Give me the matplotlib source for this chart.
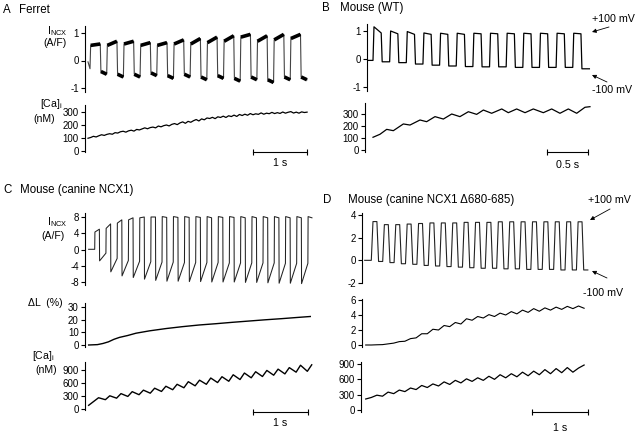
import numpy as np
import matplotlib
matplotlib.use("Agg")
import matplotlib.pyplot as plt
from matplotlib import transforms

plt.rcParams["font.family"] = ["Liberation Sans", "DejaVu Sans"]
plt.rcParams["mathtext.fontset"] = "custom"
plt.rcParams["mathtext.rm"] = "Liberation Sans"
plt.rcParams["mathtext.it"] = "Liberation Sans:italic"
plt.rcParams["axes.unicode_minus"] = False

# ---- data -----------------------------------------------------------------
# A  Ferret: I_NCX plateau levels per pulse (A/F), [Ca]i samples (nM)
A_HI_START = [0.55, 0.55, 0.60, 0.55, 0.55, 0.60, 0.60, 0.65, 0.70, 0.85, 0.70, 0.75, 0.80]
A_HI_END = [0.60, 0.70, 0.70, 0.65, 0.65, 0.75, 0.80, 0.85, 0.90, 0.95, 0.90, 0.95, 0.95]
A_LO_START = [-0.40, -0.50, -0.50, -0.45, -0.55, -0.50, -0.60, -0.55, -0.65, -0.60, -0.70, -0.60, -0.60]
A_LO_END = [-0.50, -0.60, -0.60, -0.55, -0.65, -0.60, -0.70, -0.65, -0.75, -0.70, -0.80, -0.70, -0.70]
A_CA = [98, 104, 113, 108, 117, 125, 120, 128, 133, 129, 141, 138, 148, 152, 145, 155,
        160, 153, 166, 162, 170, 178, 171, 180, 184, 178, 192, 186, 195, 200, 193, 205,
        211, 203, 216, 224, 213, 228, 221, 233, 242, 231, 247, 240, 254, 250, 259, 249,
        263, 258, 268, 258, 271, 265, 276, 266, 281, 273, 283, 275, 288, 279, 286, 282,
        293, 283, 291, 287, 297, 288, 295, 289, 300, 291, 298, 303, 292, 299, 291, 301,
        296, 299]

# B  Mouse (WT)
B_HI_START = [1.15, 1.00, 0.98, 0.93, 0.92, 0.92, 0.92, 0.92, 0.92, 0.92, 0.92, 0.92, 0.92]
B_HI_END = [0.93, 0.90, 0.88, 0.88, 0.88, 0.88, 0.90, 0.90, 0.90, 0.90, 0.90, 0.90, 0.90]
B_LO = [-0.10, -0.13, -0.18, -0.22, -0.25, -0.27, -0.28, -0.28, -0.30, -0.30, -0.30, -0.30, -0.35]
B_CA_T = [0.0, 0.085, 0.167, 0.248, 0.37, 0.451, 0.573, 0.654, 0.756, 0.858, 0.96, 1.06,
          1.163, 1.264, 1.346, 1.447, 1.57, 1.65, 1.752, 1.854, 1.955, 2.077, 2.179, 2.28,
          2.382, 2.484, 2.585, 2.646]
B_CA = [106, 131, 172, 161, 217, 208, 250, 236, 278, 258, 300, 278, 319, 297, 333, 306,
        342, 311, 342, 311, 342, 311, 342, 306, 342, 306, 356, 361]

# C  Mouse (canine NCX1)
C_HI_START = [4.3, 5.2, 6.5, 7.3, 7.8, 8.0, 8.1, 8.1, 8.1, 8.1, 8.1, 8.1, 8.1, 8.1, 8.1,
              8.1, 8.1, 8.1, 8.1, 8.1]
C_HI_END = [5.0, 6.3, 7.3, 7.8, 8.0, 8.0, 7.9, 7.9, 7.9, 7.9, 7.8, 7.9, 7.9, 7.8, 7.8,
            7.8, 7.8, 7.8, 7.8, 7.8]
C_LO_START = [-2.8, -5.5, -6.5, -6.9, -7.3, -7.6, -7.8, -7.8, -7.9, -7.9, -8.0, -8.0,
              -8.0, -8.1, -8.1, -8.2, -8.3, -8.3, -8.4]
C_LO_END = [-0.9, -2.2, -2.7, -2.9, -3.0, -3.1, -3.1, -3.2, -3.2, -3.2, -3.2, -3.3, -3.3,
            -3.3, -3.3, -3.3, -3.4, -3.4, -3.4]
C_DL_T = [-0.11, 0.05, 0.15, 0.25, 0.35, 0.45, 0.6, 0.75, 1.0, 1.3, 1.6, 1.9, 2.2, 2.5,
          2.8, 3.1, 3.4, 3.7, 3.92]
C_DL = [0.0, 0.3, 1.2, 2.5, 4.5, 6.0, 7.5, 9.3, 11.2, 13.0, 14.5, 15.8, 16.8, 17.9, 18.9,
        19.9, 20.8, 21.8, 22.5]
C_CA_TROUGH = [85, 215, 250, 290, 330, 365, 405, 445, 490, 535, 570, 610, 640, 680, 720,
               750, 780, 810, 850, 870]
C_CA_PEAK = [260, 305, 355, 400, 435, 480, 525, 570, 630, 665, 715, 745, 790, 830, 860,
             890, 920, 955, 1010, 1020]

# D  Mouse (canine NCX1 delta680-685)
D_HI = [3.42, 3.15, 3.15, 3.20, 3.25, 3.30, 3.30, 3.30, 3.35, 3.35, 3.35, 3.40, 3.40,
        3.40, 3.40, 3.40, 3.40, 3.40, 3.40]
D_LO = [-0.10, -0.20, -0.30, -0.35, -0.45, -0.50, -0.55, -0.60, -0.65, -0.70, -0.70,
        -0.75, -0.75, -0.80, -0.80, -0.80, -0.85, -0.85, -0.85]
D_DL = [0.0, 0.0, 0.03, 0.05, 0.15, 0.25, 0.45, 0.5, 0.85, 0.95, 1.5, 1.5, 2.1, 2.0, 2.6,
        2.45, 3.0, 2.8, 3.5, 3.3, 3.8, 3.6, 4.05, 3.8, 4.25, 4.0, 4.45, 4.15, 4.65, 4.35,
        4.85, 4.5, 4.95, 4.65, 5.05, 4.75, 5.15, 4.85, 5.2, 4.9]
D_CA = [215, 245, 290, 270, 350, 320, 390, 360, 430, 400, 480, 440, 510, 470, 550, 500,
        580, 530, 610, 560, 630, 580, 660, 600, 690, 630, 710, 650, 740, 670, 760, 690,
        790, 710, 810, 730, 830, 740, 820, 880]

# ---- layout helpers (pixel geometry of the 640x432 figure) -----------------
W, H = 640, 432
fig = plt.figure(figsize=(W / 100, H / 100), dpi=100)


def trace_ax(x0, x1, px0, pps, va, pa, vb, pb, ylim, ticks):
    k = (pb - pa) / (va - vb)
    top = pa - (ylim[1] - va) * k
    bot = pa + (va - ylim[0]) * k
    ax = fig.add_axes([x0 / W, 1 - bot / H, (x1 - x0) / W, (bot - top) / H])
    ax.set_xlim((x0 - px0) / pps, (x1 - px0) / pps)
    ax.set_ylim(*ylim)
    for s in ("top", "right", "bottom"):
        ax.spines[s].set_visible(False)
    ax.spines["left"].set_linewidth(0.8)
    ax.set_xticks([])
    ax.set_yticks(ticks)
    ax.tick_params(axis="y", length=3, width=0.8, pad=1.5, labelsize=7)
    ax.patch.set_visible(False)
    return ax


def pulse_trace(t_start, pre, period, t_high, ramp, t_end, hi_a, hi_b, lo_a, lo_b):
    t, y = [t_start, 0.0], [pre[0], pre[1]]
    plat_t, plat_y = [], []
    for k in range(len(hi_a)):
        on = k * period
        off = min(on + t_high, t_end)
        t += [on + ramp, off]
        y += [hi_a[k], hi_b[k]]
        plat_t += [on + ramp, off, np.nan]
        plat_y += [hi_a[k], hi_b[k], np.nan]
        if k < len(lo_a):
            nxt = min((k + 1) * period, t_end)
            t += [off + ramp, nxt]
            y += [lo_a[k], lo_b[k]]
            plat_t += [off + ramp, nxt, np.nan]
            plat_y += [lo_a[k], lo_b[k], np.nan]
    return np.array(t), np.array(y), np.array(plat_t), np.array(plat_y)


def scale_bar(ax, t0, t1, py, label, ty):
    tr = transforms.blended_transform_factory(ax.transData, fig.transFigure)
    ax.plot([t0, t1], [1 - py / H] * 2, color="black", lw=0.8, marker="|", ms=4,
            mew=0.8, transform=tr, clip_on=False)
    ax.text((t0 + t1) / 2, 1 - ty / H, label, transform=tr, ha="center", va="center",
            fontsize=7.7)


# ---- A  Ferret -------------------------------------------------------------
PX0, PPS = 90, 54
axA1 = trace_ax(85, 312, PX0, PPS, 1, 33, -1, 88, (-1.13, 1.27), [-1, 0, 1])
t, y, pt, py = pulse_trace(-0.037, (-0.05, -0.3), 0.309, 0.19, 0.012, 4.02,
                           A_HI_START, A_HI_END, A_LO_START, A_LO_END)
axA1.plot(t, y, color="#444444", lw=0.8)
axA1.plot(pt, py, color="black", lw=2.6, solid_capstyle="butt")
axA2 = trace_ax(85, 312, PX0, PPS, 300, 112, 0, 151, (-8, 355), [0, 100, 200, 300])
axA2.plot(np.linspace(-0.037, 4.02, len(A_CA)), A_CA, color="black", lw=0.9)
scale_bar(axA2, 3.02, 4.02, 151.7, "1 s", 163)

# ---- B  Mouse (WT) ---------------------------------------------------------
PX0, PPS = 373, 82
axB1 = trace_ax(367, 595, PX0, PPS, 1, 31, -1, 87, (-1.13, 1.24), [-1, 0, 1])
t, y, _, _ = pulse_trace(-0.07, (-0.05, -0.05), 0.203, 0.1, 0.012, 2.646,
                         B_HI_START, B_HI_END, B_LO, B_LO)
axB1.plot(t, y, color="black", lw=0.9)
axB2 = trace_ax(365, 595, PX0, PPS, 300, 114, 0, 150, (-17, 392), [0, 100, 200, 300])
axB2.plot(B_CA_T, B_CA, color="black", lw=0.9)
scale_bar(axB2, 2.12, 2.62, 151.7, "0.5 s", 165)

# ---- C  Mouse (canine NCX1) ------------------------------------------------
PX0, PPS = 94.7, 55
C_PERIOD, C_END = 0.204, 3.95
axC1 = trace_ax(85, 315, PX0, PPS, 8, 217, -8, 282, (-8.8, 9.1), [-8, -4, 0, 4, 8])
t, y, _, _ = pulse_trace(-0.11, (0.05, 0.05), C_PERIOD, 0.085, 0.004, C_END,
                         C_HI_START, C_HI_END, C_LO_START, C_LO_END)
axC1.plot(t, y, color="#222222", lw=0.75)
axC2 = trace_ax(85, 315, PX0, PPS, 30, 307, 0, 345, (-1.6, 33), [0, 10, 20, 30])
axC2.plot(C_DL_T, C_DL, color="black", lw=1.0)
axC3 = trace_ax(85, 315, PX0, PPS, 900, 370, 0, 409, (-23, 1085), [0, 300, 600, 900])
ca_t, ca_v = [], []
for k in range(len(C_CA_PEAK)):
    ca_t += [-0.11 if k == 0 else k * C_PERIOD - 0.01, min(k * C_PERIOD + 0.07, C_END)]
    ca_v += [C_CA_TROUGH[k], C_CA_PEAK[k]]
axC3.plot(ca_t, ca_v, color="black", lw=1.0)
scale_bar(axC3, 2.87, 3.87, 411.7, "1 s", 423)

# ---- D  Mouse (canine NCX1 delta680-685) -----------------------------------
PX0, PPS = 371.3, 56
axD1 = trace_ax(362, 595, PX0, PPS, 4, 215, -2, 283, (-2.0, 4.18), [-2, 0, 2, 4])
t, y, _, _ = pulse_trace(-0.118, (0.0, 0.0), 0.2035, 0.1, 0.03, 3.87,
                         D_HI, D_HI, D_LO, D_LO)
axD1.plot(t, y, color="#222222", lw=0.8)
axD2 = trace_ax(362, 595, PX0, PPS, 6, 300, 0, 345, (-0.27, 6.13), [0, 2, 4, 6])
axD2.plot(np.linspace(-0.1, 3.8, len(D_DL)), D_DL, color="black", lw=0.8)
axD3 = trace_ax(361, 595, PX0, PPS, 900, 364, 0, 410, (-39, 939), [0, 300, 600, 900])
axD3.plot(np.linspace(-0.1, 3.8, len(D_CA)), D_CA, color="black", lw=0.9)
scale_bar(axD3, 2.87, 3.87, 411.7, "1 s", 428)

# ---- labels, panel titles, voltage arrows (pixel overlay) ------------------
ov = fig.add_axes([0, 0, 1, 1])
ov.set_xlim(0, W)
ov.set_ylim(H, 0)
ov.axis("off")

for letter, lx, title, tx, ty in [("A", 3, "Ferret", 19, 10),
                                  ("B", 322, "Mouse (WT)", 340, 8),
                                  ("C", 3, "Mouse (canine NCX1)", 20, 190),
                                  ("D", 323, "Mouse (canine NCX1 \u0394680-685)", 348, 200)]:
    ov.text(lx, ty, letter, fontsize=8.3, va="center")
    ov.text(tx, ty, title, fontsize=8.3, va="center")

lab = dict(fontsize=7.6, ha="right")
ov.text(67, 34, r"I$_{\mathrm{NCX}}$", va="baseline", **lab)
ov.text(67, 43, "(A/F)", va="center", **lab)
ov.text(63, 107, r"[Ca]$_{\mathrm{i}}$", va="baseline", **lab)
ov.text(55, 119, "(nM)", va="center", **lab)
ov.text(67, 225, r"I$_{\mathrm{NCX}}$", va="baseline", **lab)
ov.text(65, 236, "(A/F)", va="center", **lab)
ov.text(63, 303, "\u0394L  (%)", va="center", **lab)
ov.text(55, 359, r"[Ca]$_{\mathrm{i}}$", va="baseline", **lab)
ov.text(57, 370, "(nM)", va="center", **lab)

arrow = dict(arrowstyle="-|>", lw=0.6, color="black", mutation_scale=6,
             shrinkA=0, shrinkB=0)
for txt, tx, ty, a0, a1 in [("+100 mV", 592, 19, (609, 27), (592, 32)),
                            ("-100 mV", 592, 90, (607, 82), (592, 75)),
                            ("+100 mV", 588, 200, (610, 209), (590, 220)),
                            ("-100 mV", 583, 293, (607, 278), (592, 271))]:
    ov.text(tx, ty, txt, fontsize=7.7, va="center")
    ov.annotate("", xy=a1, xytext=a0, arrowprops=arrow)

fig.savefig("out.png", dpi=100)
